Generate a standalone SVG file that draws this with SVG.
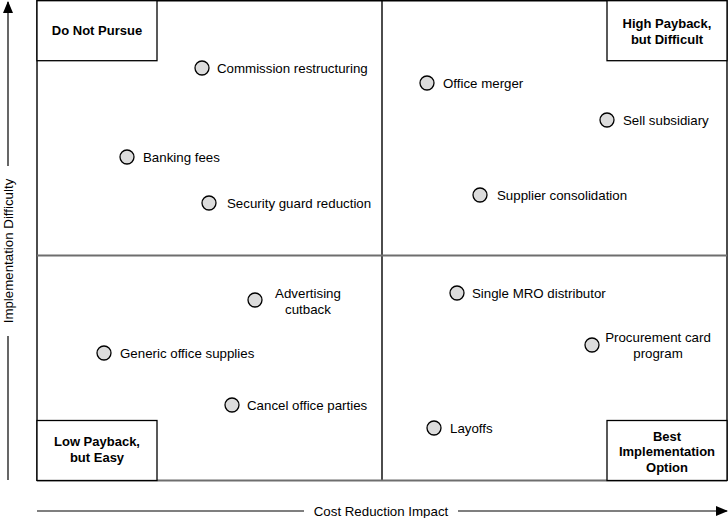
<svg xmlns="http://www.w3.org/2000/svg" width="728" height="518" viewBox="0 0 728 518">
<style>
text{font-family:"Liberation Sans",Arial,sans-serif;font-size:13.3px;fill:#000}
.b{font-weight:bold;text-anchor:middle;font-size:13px}
.m{text-anchor:middle}
.pt{fill:#dcdcdc;stroke:#000;stroke-width:1.3}
.box{fill:#fff;stroke:#000;stroke-width:1.3}
</style>
<defs>
<marker id="ah" markerWidth="12" markerHeight="10" refX="11" refY="5" orient="auto" markerUnits="userSpaceOnUse">
<path d="M0,0 L12,5 L0,10 Z" fill="#000"/>
</marker>
</defs>
<rect x="0" y="0" width="728" height="518" fill="#fff"/>
<g id="grid">
<line x1="37" y1="0.7" x2="727" y2="0.7" stroke="#000" stroke-width="1.4"/>
<line x1="37" y1="0" x2="37" y2="481" stroke="#000" stroke-width="1.4"/>
<line x1="727" y1="0" x2="727" y2="481" stroke="#000" stroke-width="1.4"/>
<line x1="382" y1="0" x2="382" y2="481" stroke="#000" stroke-width="1.4"/>
<line x1="37" y1="255.5" x2="727" y2="255.5" stroke="#6e6e6e" stroke-width="2"/>
<line x1="37" y1="480.5" x2="727" y2="480.5" stroke="#6e6e6e" stroke-width="2"/>
</g>
<g id="axes">
<line x1="8" y1="480" x2="8" y2="336" stroke="#000" stroke-width="1.2"/>
<line x1="8" y1="166" x2="8" y2="2" stroke="#000" stroke-width="1.2" marker-end="url(#ah)"/>
<text class="m" transform="translate(12.5,251) rotate(-90)">Implementation Difficulty</text>
<line x1="37" y1="511" x2="304" y2="511" stroke="#555" stroke-width="1.4"/>
<line x1="458" y1="511" x2="727" y2="511" stroke="#555" stroke-width="1.4" marker-end="url(#ah)"/>
<text class="m" x="381" y="515.5">Cost Reduction Impact</text>
</g>
<g id="do-not-pursue">
<rect class="box" x="37" y="0.7" width="120" height="60"/>
<text class="b" x="97" y="35">Do Not Pursue</text>
</g>
<g id="high-payback">
<rect class="box" x="607" y="0.7" width="120" height="60"/>
<text class="b" x="667" y="27.5">High Payback,</text>
<text class="b" x="667" y="43.5">but Difficult</text>
</g>
<g id="low-payback">
<rect class="box" x="37" y="420.5" width="120" height="60"/>
<text class="b" x="97" y="446">Low Payback,</text>
<text class="b" x="97" y="462">but Easy</text>
</g>
<g id="best-option">
<rect class="box" x="607" y="420.5" width="120" height="60"/>
<text class="b" x="667" y="440.5">Best</text>
<text class="b" x="667" y="456">Implementation</text>
<text class="b" x="667" y="472">Option</text>
</g>
<g id="commission"><circle class="pt" cx="202" cy="68" r="7"/><text x="217" y="73">Commission restructuring</text></g>
<g id="office-merger"><circle class="pt" cx="427" cy="83" r="7"/><text x="443" y="88">Office merger</text></g>
<g id="sell-subsidiary"><circle class="pt" cx="607" cy="120" r="7"/><text x="623" y="125">Sell subsidiary</text></g>
<g id="banking-fees"><circle class="pt" cx="127" cy="157" r="7"/><text x="143" y="162">Banking fees</text></g>
<g id="security-guard"><circle class="pt" cx="209" cy="203" r="7"/><text x="227" y="208">Security guard reduction</text></g>
<g id="supplier"><circle class="pt" cx="480" cy="195" r="7"/><text x="497" y="200">Supplier consolidation</text></g>
<g id="advertising"><circle class="pt" cx="255" cy="300" r="7"/><text class="m" x="308" y="297.5">Advertising</text><text class="m" x="308" y="313.5">cutback</text></g>
<g id="mro"><circle class="pt" cx="457" cy="293" r="7"/><text x="472" y="297.5">Single MRO distributor</text></g>
<g id="generic"><circle class="pt" cx="104" cy="353" r="7"/><text x="120" y="358">Generic office supplies</text></g>
<g id="procurement"><circle class="pt" cx="592" cy="345" r="7"/><text class="m" x="658" y="342">Procurement card</text><text class="m" x="658" y="358">program</text></g>
<g id="cancel-parties"><circle class="pt" cx="232" cy="405" r="7"/><text x="247" y="410">Cancel office parties</text></g>
<g id="layoffs"><circle class="pt" cx="434" cy="428" r="7"/><text x="450" y="433">Layoffs</text></g>
</svg>
